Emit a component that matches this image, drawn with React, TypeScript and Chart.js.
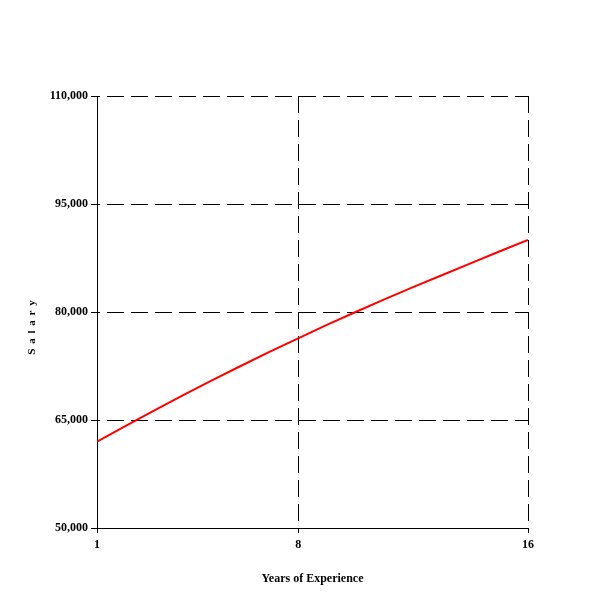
import { useEffect, useRef } from "react";
import { Chart, registerables } from "chart.js";

Chart.register(...registerables);

const years = [1, 2, 3, 4, 5, 6, 7, 8, 9, 10, 11, 12, 13, 14, 15, 16];
const salary = [
  62000, 64200, 66350, 68450, 70500, 72500, 74450, 76350, 78200, 80000, 81750,
  83450, 85100, 86750, 88400, 90000,
];
const xTickValues = [1, 8, 16];
const yMin = 50000;
const yMax = 110000;
const yStep = 15000;
const xTitle = "Years of Experience";
const yTitle = "S a l a r y";

const FONT = "'Liberation Serif', 'Times New Roman', serif";

const yTitlePlugin = {
  id: "yTitlePlugin",
  afterDraw(chart: any) {
    const ctx = chart.ctx;
    const area = chart.chartArea;
    ctx.save();
    ctx.font = `bold 11px ${FONT}`;
    ctx.fillStyle = "#000";
    ctx.textAlign = "center";
    ctx.textBaseline = "middle";
    (ctx as any).letterSpacing = "1px";
    ctx.translate(32, (area.top + area.bottom) / 2 + 15);
    ctx.rotate(-Math.PI / 2);
    ctx.fillText(yTitle, 0, 0);
    ctx.restore();
  },
};

export default function App() {
  const ref = useRef<HTMLCanvasElement | null>(null);

  useEffect(() => {
    if (!ref.current) return;
    const chart = new Chart(ref.current, {
      type: "line",
      data: {
        datasets: [
          {
            data: years.map((x, i) => ({ x, y: salary[i] })),
            borderColor: "#ff0000",
            backgroundColor: "#ff0000",
            borderWidth: 2,
            pointRadius: 0,
            tension: 0,
            fill: false,
          },
        ],
      },
      options: {
        animation: false,
        responsive: false,
        maintainAspectRatio: false,
        layout: { padding: { top: 96, right: 72, left: 0, bottom: 0 } },
        plugins: {
          legend: { display: false },
          tooltip: { enabled: false },
          title: { display: false },
        },
        scales: {
          x: {
            type: "linear",
            min: 1,
            max: 16,
            afterBuildTicks: (scale: any) => {
              scale.ticks = xTickValues.map((v) => ({ value: v }));
            },
            afterFit: (scale: any) => {
              scale.height = 72;
            },
            ticks: {
              color: "#000",
              font: { family: FONT, size: 12, weight: "bold" },
              padding: 5,
              maxRotation: 0,
              autoSkip: false,
              callback: (v: any) => String(v),
            },
            grid: {
              color: "#000",
              lineWidth: 1,
              tickLength: 5,
              tickColor: "#000",
              tickBorderDash: [],
            },
            border: { display: true, color: "#000", width: 1, dash: [17, 7], dashOffset: 0 },
            title: {
              display: true,
              text: xTitle,
              color: "#000",
              font: { family: FONT, size: 12, weight: "bold" },
              padding: { top: 0, bottom: 14 },
            },
          },
          y: {
            type: "linear",
            min: yMin,
            max: yMax,
            afterFit: (scale: any) => {
              scale.width = 97;
            },
            ticks: {
              stepSize: yStep,
              color: "#000",
              font: { family: FONT, size: 12, weight: "bold" },
              padding: 3,
              callback: (v: any) => Number(v).toLocaleString("en-US"),
            },
            grid: {
              color: "#000",
              lineWidth: 1,
              tickLength: 6,
              tickColor: "#000",
              tickBorderDash: [],
            },
            border: { display: true, color: "#000", width: 1, dash: [17, 7], dashOffset: 15 },
          },
        },
      },
      plugins: [yTitlePlugin],
    } as any);
    return () => chart.destroy();
  }, []);

  return (
    <div style={{ position: "absolute", left: 0, top: 0, width: 600, height: 600, background: "#fff" }}>
      <canvas ref={ref} width={600} height={600} style={{ width: 600, height: 600 }} />
    </div>
  );
}
